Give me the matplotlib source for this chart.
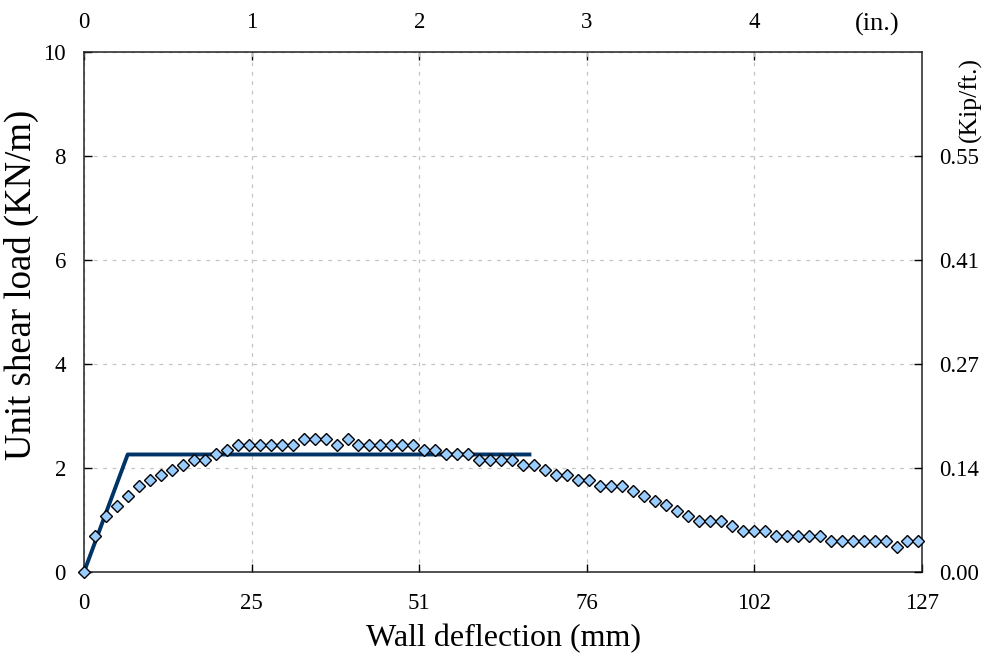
import matplotlib
matplotlib.use("Agg")
import matplotlib.pyplot as plt

plt.rcParams['font.family'] = ['Liberation Serif', 'DejaVu Serif']

# measured points (mm, kN/m)
deflection_mm = [
    0.00, 1.66, 3.33, 4.99, 6.66, 8.32, 9.98, 11.65, 13.31, 14.98,
    16.64, 18.30, 19.97, 21.63, 23.30, 24.96, 26.62, 28.29, 29.95, 31.62,
    33.28, 34.94, 36.61, 38.27, 39.94, 41.60, 43.26, 44.93, 46.59, 48.26,
    49.92, 51.58, 53.25, 54.91, 56.58, 58.24, 59.90, 61.57, 63.23, 64.90,
    66.56, 68.22, 69.89, 71.55, 73.22, 74.88, 76.54, 78.21, 79.87, 81.54,
    83.20, 84.86, 86.53, 88.19, 89.86, 91.52, 93.18, 94.85, 96.51, 98.18,
    99.84, 101.50, 103.17, 104.83, 106.50, 108.16, 109.82, 111.49, 113.15, 114.82,
    116.48, 118.14, 119.81, 121.47, 123.14, 124.80, 126.46,
]
shear_load = [
    0.00, 0.69, 1.07, 1.27, 1.46, 1.66, 1.76, 1.86, 1.96, 2.06,
    2.15, 2.15, 2.26, 2.35, 2.45, 2.45, 2.45, 2.45, 2.45, 2.45,
    2.55, 2.55, 2.55, 2.45, 2.55, 2.45, 2.45, 2.45, 2.45, 2.45,
    2.45, 2.35, 2.35, 2.26, 2.26, 2.26, 2.15, 2.15, 2.15, 2.15,
    2.06, 2.06, 1.96, 1.86, 1.86, 1.76, 1.76, 1.66, 1.66, 1.66,
    1.56, 1.47, 1.37, 1.28, 1.18, 1.08, 0.98, 0.98, 0.98, 0.88,
    0.78, 0.78, 0.78, 0.69, 0.69, 0.69, 0.69, 0.69, 0.59, 0.59,
    0.59, 0.59, 0.59, 0.59, 0.49, 0.59, 0.59,
]

# bilinear idealisation
bilinear_x = [0.0, 6.62, 67.8]
bilinear_y = [0.0, 2.26, 2.26]

x_ticks_in = [0, 1, 2, 3, 4, 5]
x_tick_labels_mm = ['0', '25', '51', '76', '102', '127']
top_tick_labels = ['0', '1', '2', '3', '4']
y_ticks = [0, 2, 4, 6, 8, 10]
right_ticks = [0, 2, 4, 6, 8]
right_tick_labels = ['0.00', '0.14', '0.27', '0.41', '0.55']

TICK_FS = 16.5

fig = plt.figure(figsize=(9.88, 6.63), dpi=100)
fig.subplots_adjust(left=84/988, right=922/988, bottom=1-572/663, top=1-52/663)
ax = fig.add_subplot(111)

ax.plot(bilinear_x, bilinear_y, color='#003366', lw=2.8, solid_capstyle='butt', zorder=3)
ax.plot(deflection_mm, shear_load, linestyle='none', marker='D', markersize=6.2,
        markerfacecolor='#99ccff', markeredgecolor='black', markeredgewidth=1.0, zorder=4,
        clip_on=False)

ax.set_xlim(0, 127)
ax.set_ylim(0, 10)
ax.set_xticks([i * 25.4 for i in x_ticks_in])
ax.set_xticklabels(x_tick_labels_mm)
ax.set_yticks(y_ticks)
ax.grid(True, color='#c4c4c4', linestyle=(0, (3.0, 4.5)), linewidth=0.9)
ax.tick_params(direction='in', length=6, width=1, labelsize=TICK_FS, colors='black')
ax.tick_params(axis='x', pad=15)
ax.tick_params(axis='y', pad=13)
for sp in ax.spines.values():
    sp.set_linewidth(1.1)
    sp.set_color('#222222')

ax.set_xlabel('Wall deflection (mm)', fontsize=23)
ax.xaxis.set_label_coords(0.5, -0.1)
ax.set_ylabel('Unit shear load (KN/m)', fontsize=26.5)
ax.yaxis.set_label_coords(-0.054, 0.553)

# top axis in inches
top = ax.secondary_xaxis('top', functions=(lambda v: v / 25.4, lambda v: v * 25.4))
top.set_xticks(x_ticks_in[:-1])
top.set_xticklabels(top_tick_labels)
top.tick_params(direction='in', length=6, width=1, labelsize=TICK_FS, pad=14)
top.spines['top'].set_visible(False)
ax.text(0.947, 1.03, '(in.)', transform=ax.transAxes, fontsize=19, ha='center', va='bottom')

# right axis in kip/ft
ax2 = ax.twinx()
ax2.set_ylim(0, 10)
ax2.set_yticks(right_ticks)
ax2.set_yticklabels(right_tick_labels)
ax2.tick_params(direction='in', length=6, width=1, labelsize=TICK_FS, pad=12)
for sp in ax2.spines.values():
    sp.set_visible(False)
ax.text(1.057, 0.99, '(Kip/ft.)', transform=ax.transAxes, fontsize=18.5, rotation=90,
        ha='center', va='top')

fig.savefig('out.png', dpi=100)
